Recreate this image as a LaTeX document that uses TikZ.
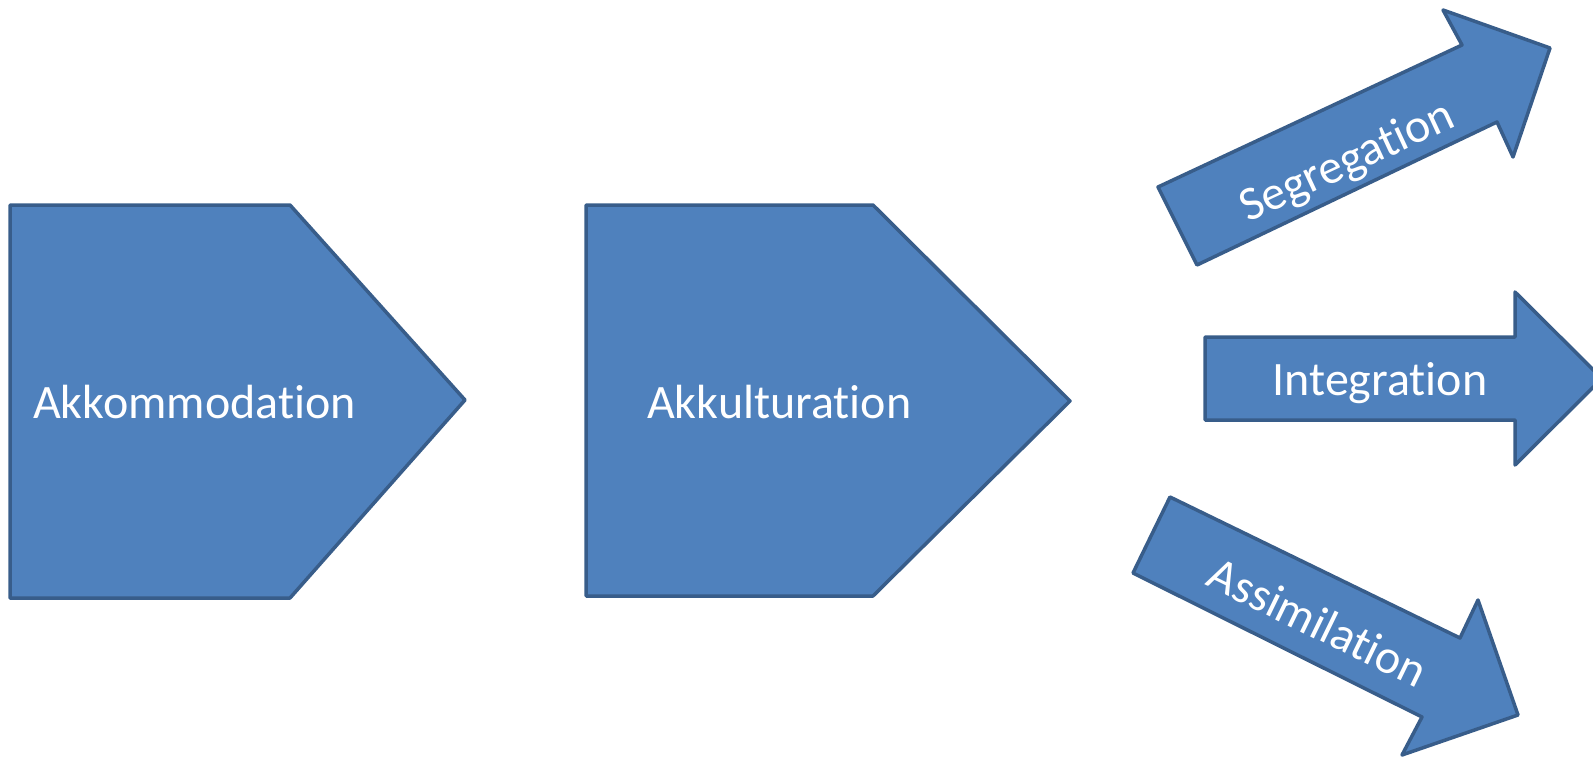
\documentclass[tikz,border=0pt]{standalone}
\usepackage{fontspec}
\setmainfont[Ligatures=NoCommon]{Carlito}
\definecolor{officeblue}{HTML}{4F81BD}
\definecolor{officeedge}{HTML}{385D8A}
\tikzset{
    stage/.style={fill=officeblue, draw=officeedge, line width=3.5pt, line join=round},
    label/.style={text=white, font=\fontsize{48}{58}\selectfont, inner sep=0pt},
}

\begin{document}
\begin{tikzpicture}[x=1pt, y=-1pt] % stages of acculturation
	\useasboundingbox (0,0) rectangle (1593,760);
	% the two pentagons
	\draw[stage] (10,205) -- (290,205) -- (465,400) -- (290,598) -- (10,598) -- cycle;
	\draw[stage] (586,205) -- (873,205) -- (1070,401) -- (873,596) -- (586,596) -- cycle;
	\node[label, anchor=base west] (akk) at (33,418) {Akkommodation};
	\node[label, anchor=base west] (akul) at (647,418) {Akkulturation};
	% the three outcomes
	\draw[stage] (1158,187) -- (1462,45) -- (1443,10) -- (1550,48) -- (1513,157) -- (1497,122) -- (1197,265) -- cycle;
	\draw[stage] (1205,337) -- (1515,337) -- (1515,292) -- (1602,378.5) -- (1515,465) -- (1515,420) -- (1205,420) -- cycle;
	\draw[stage] (1170,497) -- (1460,638) -- (1478,600) -- (1518,715) -- (1402,755) -- (1422,717) -- (1133,573) -- cycle;
	\node[label, rotate=25] (seg) at (1348,163) {Segregation};
	\node[label, anchor=base] (int) at (1380,395) {Integration};
	\node[label, rotate=-26] (ass) at (1318,622) {Assimilation};
\end{tikzpicture}
\end{document}
